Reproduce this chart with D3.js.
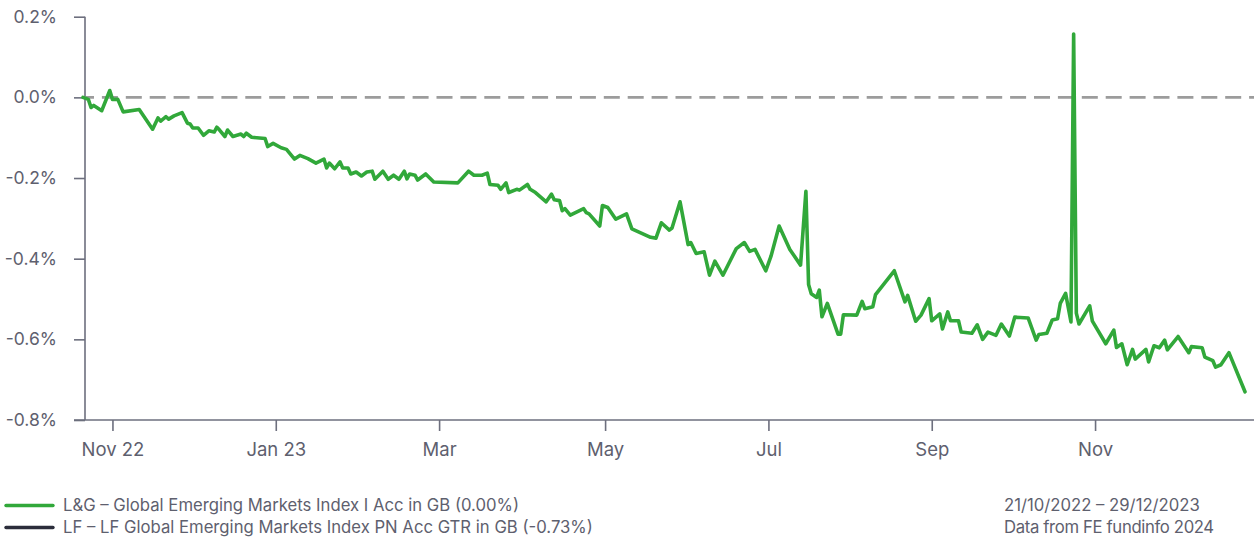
<!DOCTYPE html>
<html>
<head>
<meta charset="utf-8">
<script src="https://cdn.jsdelivr.net/npm/d3@7"></script>
<style>
  html, body { margin: 0; padding: 0; background: #ffffff; }
  svg { display: block; }
  text { font-family: "Inter", "Noto Sans", sans-serif; fill: #5e606e; }
</style>
</head>
<body>
<svg id="chart" width="1254" height="542"></svg>
<script>
// Relative performance, 21/10/2022 – 29/12/2023 (percent)
const startDate = new Date(2022, 9, 21);
const endDate = new Date(2023, 11, 29);

// Days elapsed since the start date for each observation
const dayOffsets = [
  0, 2, 3, 4, 7, 10, 11, 13, 15, 21, 26, 28, 29, 31, 32, 34, 37, 39, 40, 41,
  43, 45, 47, 49, 50, 51, 53, 54, 56, 59, 60, 61, 63, 68, 69, 71, 74, 76, 78, 79,
  81, 84, 87, 90, 91, 92, 94, 96, 97, 99, 100, 102, 104, 106, 108, 109, 112, 114, 116, 118,
  120, 121, 122, 124, 125, 128, 131, 140, 144, 146, 149, 151, 152, 155, 156, 158, 159, 162, 163, 166,
  167, 169, 173, 175, 176, 178, 179, 180, 182, 187, 188, 189, 193, 194, 196, 199, 203, 205, 212, 214,
  216, 219, 220, 223, 226, 227, 229, 232, 234, 236, 239, 244, 247, 249, 251, 255, 257, 260, 264, 268,
  270, 271, 272, 274, 275, 276, 278, 282, 283, 284, 289, 291, 292, 295, 296, 303, 307, 308, 311, 313,
  316, 317, 320, 321, 323, 324, 327, 328, 332, 334, 336, 338, 341, 343, 346, 348, 353, 356, 357, 360,
  362, 364, 365, 367, 369, 370, 371, 372, 376, 377, 382, 385, 386, 388, 390, 392, 393, 397, 398, 400,
  402, 404, 405, 409, 413, 414, 418, 419, 422, 423, 425, 428, 434
];

const relReturn = [
  0.000, -0.005, -0.025, -0.020, -0.033, 0.017, -0.005, -0.005, -0.036, -0.030, -0.079, -0.051, -0.059, -0.048, -0.054, -0.046, -0.038, -0.064, -0.066, -0.076,
  -0.076, -0.094, -0.083, -0.086, -0.074, -0.081, -0.097, -0.081, -0.097, -0.091, -0.097, -0.089, -0.099, -0.102, -0.122, -0.114, -0.125, -0.129, -0.145, -0.153,
  -0.144, -0.152, -0.163, -0.153, -0.175, -0.163, -0.177, -0.160, -0.175, -0.175, -0.190, -0.185, -0.195, -0.185, -0.183, -0.203, -0.183, -0.203, -0.193, -0.203,
  -0.183, -0.202, -0.190, -0.193, -0.205, -0.190, -0.210, -0.212, -0.183, -0.193, -0.193, -0.188, -0.216, -0.218, -0.228, -0.212, -0.236, -0.228, -0.230, -0.216,
  -0.228, -0.236, -0.259, -0.240, -0.254, -0.256, -0.281, -0.276, -0.292, -0.276, -0.286, -0.289, -0.319, -0.268, -0.273, -0.302, -0.289, -0.326, -0.347, -0.349,
  -0.311, -0.329, -0.324, -0.259, -0.365, -0.360, -0.387, -0.383, -0.441, -0.406, -0.441, -0.375, -0.360, -0.382, -0.377, -0.430, -0.393, -0.319, -0.377, -0.416,
  -0.233, -0.464, -0.487, -0.496, -0.478, -0.544, -0.511, -0.587, -0.587, -0.539, -0.540, -0.506, -0.524, -0.519, -0.489, -0.430, -0.507, -0.491, -0.555, -0.540,
  -0.499, -0.554, -0.537, -0.574, -0.532, -0.554, -0.554, -0.582, -0.585, -0.564, -0.600, -0.582, -0.590, -0.562, -0.592, -0.545, -0.547, -0.602, -0.588, -0.585,
  -0.552, -0.549, -0.511, -0.486, -0.557, 0.157, -0.535, -0.562, -0.517, -0.555, -0.611, -0.577, -0.620, -0.611, -0.663, -0.625, -0.649, -0.625, -0.656, -0.616,
  -0.621, -0.602, -0.626, -0.593, -0.633, -0.618, -0.621, -0.644, -0.653, -0.669, -0.663, -0.633, -0.730
];

const yTicks = [0.2, 0.0, -0.2, -0.4, -0.6, -0.8];
const xTickDates = ["2022-11-01", "2023-01-01", "2023-03-03", "2023-05-04", "2023-07-04", "2023-09-03", "2023-11-03"];
const xTickLabels = ["Nov 22", "Jan 23", "Mar", "May", "Jul", "Sep", "Nov"];

const seriesNames = [
  "L&G – Global Emerging Markets Index I Acc in GB (0.00%)",
  "LF – LF Global Emerging Markets Index PN Acc GTR in GB (-0.73%)"
];
const footnotes = ["21/10/2022 – 29/12/2023", "Data from FE fundinfo 2024"];

// ---- drawing ----
const GREEN = "#31a83a";
const DARK = "#2b2d3b";
const AXIS = "#6d6f7e";
const LABEL = "#5e606e";

const svg = d3.select("#chart");

const parseDay = d3.timeParse("%Y-%m-%d");
const points = dayOffsets.map((d, i) => ({
  date: d3.timeDay.offset(startDate, d),
  value: relReturn[i]
}));

const x = d3.scaleTime().domain([startDate, endDate]).range([83, 1245]);
const y = d3.scaleLinear().domain([-0.8, 0.2]).range([420, 16.7]);

const pct = v => (v < 0 ? "-" : "") + Math.abs(v).toFixed(1) + "%";

// y axis
const yAxis = svg.append("g")
  .attr("transform", "translate(85,0)")
  .call(d3.axisLeft(y).tickValues(yTicks).tickFormat(pct).tickSize(11).tickSizeOuter(0).tickPadding(17));
yAxis.select(".domain").attr("stroke", AXIS).attr("stroke-width", 1.6)
  .attr("d", `M0,${y(0.2)}V${y(-0.8)}`);
yAxis.selectAll(".tick line").attr("stroke", AXIS).attr("stroke-width", 1.6);
yAxis.selectAll(".tick text")
  .style("font-size", "17.5px").style("letter-spacing", "0px")
  .attr("fill", LABEL);

// x axis
const tickDates = xTickDates.map(parseDay);
const xAxis = svg.append("g")
  .attr("transform", `translate(0,${y(-0.8)})`)
  .call(d3.axisBottom(x).tickValues(tickDates)
    .tickFormat((d, i) => xTickLabels[i]).tickSize(11).tickSizeOuter(0).tickPadding(12));
xAxis.select(".domain").attr("stroke", AXIS).attr("stroke-width", 1.6).attr("d", "M74,0H1254");
xAxis.selectAll(".tick line").attr("stroke", AXIS).attr("stroke-width", 1.6);
xAxis.selectAll(".tick text")
  .style("font-size", "18.5px").style("letter-spacing", "0px")
  .attr("fill", LABEL);

// zero reference line
svg.append("line")
  .attr("x1", 85).attr("x2", 1254)
  .attr("y1", y(0)).attr("y2", y(0))
  .attr("stroke", "#9c9c9c").attr("stroke-width", 2.6)
  .attr("stroke-dasharray", "16 7.9").attr("stroke-dashoffset", 7);

// performance line
const line = d3.line().x(d => x(d.date)).y(d => y(d.value));
svg.append("path")
  .datum(points)
  .attr("d", line)
  .attr("fill", "none")
  .attr("stroke", GREEN)
  .attr("stroke-width", 3.6)
  .attr("stroke-linejoin", "round")
  .attr("stroke-linecap", "round");

// legend
const legend = svg.append("g");
const legendColors = [GREEN, DARK];
seriesNames.forEach((name, i) => {
  const ly = 505.5 + i * 22;
  legend.append("line")
    .attr("x1", 6).attr("x2", 53).attr("y1", ly).attr("y2", ly)
    .attr("stroke", legendColors[i]).attr("stroke-width", 3.4).attr("stroke-linecap", "round");
  legend.append("text")
    .attr("x", 63).attr("y", ly).attr("dy", "0.35em")
    .style("font-size", "16.7px").style("letter-spacing", "0px")
    .text(name);
});

// source notes
footnotes.forEach((t, i) => {
  svg.append("text")
    .attr("x", 1004).attr("y", 505.5 + i * 22).attr("dy", "0.35em")
    .style("font-size", "16.7px").style("letter-spacing", i === 1 ? "-0.35px" : "0px")
    .text(t);
});
</script>
</body>
</html>
